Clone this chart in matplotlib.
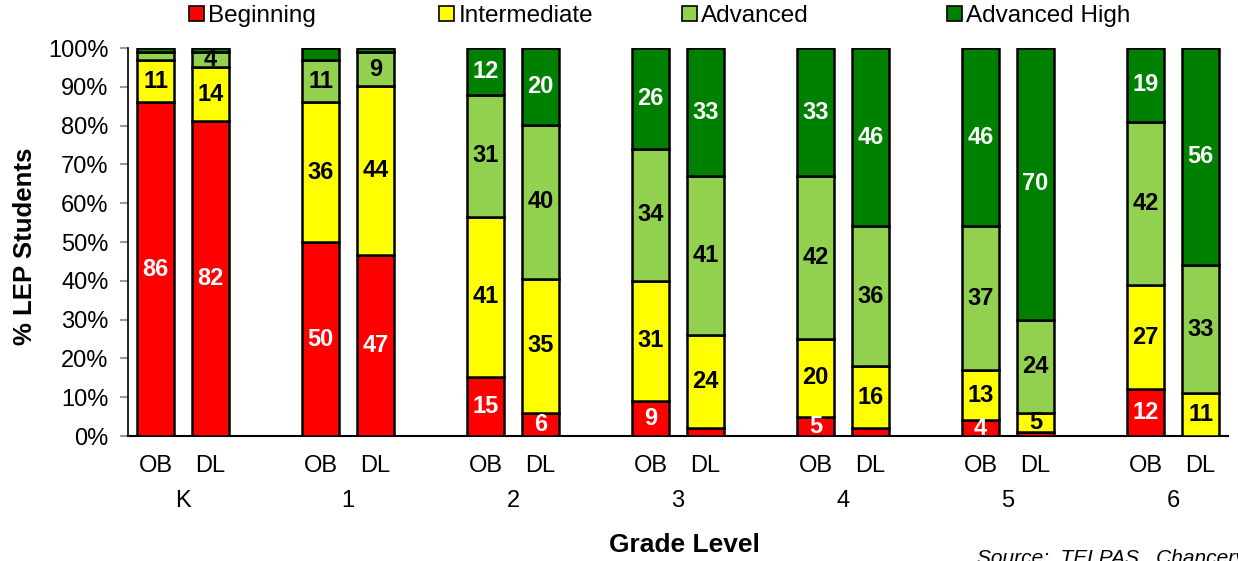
import matplotlib.pyplot as plt
from matplotlib.patches import Patch
import matplotlib.transforms as mtransforms
import numpy as np

# Données
grades = ['K', '1', '2', '3', '4', '5', '6']
programs = ['OB', 'DL']
levels = ['Beginning', 'Intermediate', 'Advanced', 'Advanced High']
colors = ['#FF0000', '#FFFF00', '#92D050', '#008000']
text_colors = ['white', 'black', 'black', 'white']

# une ligne par barre : K OB, K DL, 1 OB, 1 DL, ...
beginning    = [86, 82, 50, 47, 15,  6,  9,  2,  5,  2,  4,  1, 12,  0]
intermediate = [11, 14, 36, 44, 41, 35, 31, 24, 20, 16, 13,  5, 27, 11]
advanced     = [ 2,  4, 11,  9, 31, 40, 34, 41, 42, 36, 37, 24, 42, 33]
adv_high     = [ 1,  1,  3,  1, 12, 20, 26, 33, 33, 46, 46, 70, 19, 56]

plt.rcParams['font.family'] = ['Liberation Sans', 'DejaVu Sans']

vals = np.array([beginning, intermediate, advanced, adv_high], dtype=float)
pct = vals / vals.sum(axis=0) * 100  # 100 % empilé

x = []
for g in range(len(grades)):
    for p in range(len(programs)):
        x.append(g * 3 + p)
x = np.array(x)

fig = plt.figure(figsize=(12.38, 5.61), dpi=100)
ax = fig.add_axes([0.1034, 0.2228, 0.8886, 0.6916])

bottom = np.zeros(len(x))
for k in range(len(levels)):
    ax.bar(x, pct[k], bottom=bottom, width=0.67, color=colors[k],
           edgecolor='black', linewidth=1.8, zorder=3)
    for i in range(len(x)):
        if vals[k, i] >= 4:
            ax.text(x[i], bottom[i] + pct[k, i] / 2, f"{int(vals[k, i])}",
                    ha='center', va='center', fontsize=17, fontweight='bold',
                    color=text_colors[k], zorder=4)
    bottom += pct[k]

ax.set_xlim(-0.5, 19.5)
ax.set_ylim(0, 100)
ax.set_yticks(np.arange(0, 101, 10))
ax.set_yticklabels([f"{v}%" for v in range(0, 101, 10)], fontsize=17)
ax.tick_params(axis='y', length=6, width=1.5, color='#999999', pad=8)
ax.tick_params(axis='x', length=0)
ax.set_xticks(x)
ax.set_xticklabels([programs[i % 2] for i in range(len(x))], fontsize=17)
ax.tick_params(axis='x', pad=14)
for s in ['top', 'right']:
    ax.spines[s].set_visible(False)
ax.spines['left'].set_linewidth(1.2)
ax.spines['bottom'].set_linewidth(1.5)

# Niveaux scolaires
trans = mtransforms.blended_transform_factory(ax.transData, fig.transFigure)
for g, name in enumerate(grades):
    ax.text(g * 3 + 0.5, 1 - 501 / 561, name, transform=trans,
            ha='center', va='center', fontsize=17)

fig.text(0.553, 1 - 545 / 561, 'Grade Level', ha='center', va='center',
         fontsize=19, fontweight='bold')
ax.set_ylabel('% LEP Students', fontsize=18.5, fontweight='bold')
ax.yaxis.set_label_coords(-0.0825, 0.49)
fig.text(977 / 1238, 1 - 564 / 561, 'Source:  TELPAS,  Chancery', ha='left',
         va='baseline', fontsize=15, style='italic')

# Légende : une entrée par position, comme dans l'original
leg_x = [189, 439, 682, 947]
handles = [Patch(facecolor=c, edgecolor='black', linewidth=1.2) for c in colors]
for h, lab, lx in zip(handles, levels, leg_x):
    leg = fig.legend([h], [lab], loc='center left',
                     bbox_to_anchor=(lx / 1238, 1 - 16 / 561),
                     frameon=False, fontsize=17.5, handlelength=0.6,
                     handleheight=0.6, handletextpad=0.2, borderpad=0,
                     borderaxespad=0)

plt.savefig('out.png', dpi=100)
